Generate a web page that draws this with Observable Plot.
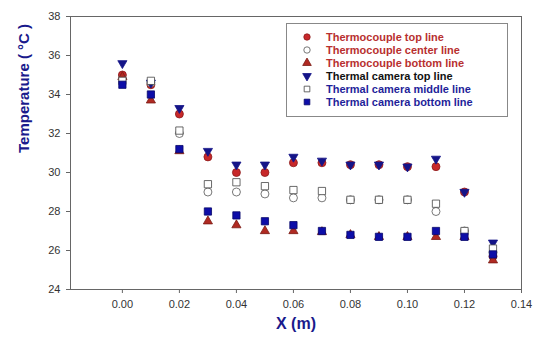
<!DOCTYPE html>
<html>
<head>
<meta charset="utf-8">
<script src="https://cdn.jsdelivr.net/npm/d3@7"></script>
<script src="https://cdn.jsdelivr.net/npm/@observablehq/plot@0.6"></script>
<style>
  body { margin: 0; background: #fff; font-family: "Liberation Sans", Arial, sans-serif; }
  #wrap { position: relative; width: 534px; height: 340px; }
  #legend { position: absolute; left: 286px; top: 23px; width: 222px; height: 94px;
            border: 1px solid #888; background: #fff; box-sizing: border-box; padding-top: 6px; }
  .row { display: flex; align-items: center; height: 13px; font-weight: bold; font-size: 11px; }
  .row svg { margin-left: 15px; margin-right: 14px; }
</style>
</head>
<body>
<div id="wrap"><div id="chart"></div><div id="legend"></div></div>
<script>
const xs = [0, 0.01, 0.02, 0.03, 0.04, 0.05, 0.06, 0.07, 0.08, 0.09, 0.10, 0.11, 0.12, 0.13];
const tcTop    = [35.0, 34.5, 33.0, 30.8, 30.0, 30.0, 30.5, 30.5, 30.4, 30.4, 30.3, 30.3, 29.0, 25.7];
const tcCenter = [34.8, 34.6, 32.0, 29.0, 29.0, 28.9, 28.7, 28.7, 28.6, 28.6, 28.6, 28.0, 27.0, 25.9];
const tcBottom = [34.9, 33.7, 31.1, 27.5, 27.3, 27.0, 27.0, 26.95, 26.8, 26.7, 26.7, 26.7, 26.7, 25.5];
const camTop   = [35.6, 34.6, 33.3, 31.1, 30.4, 30.4, 30.8, 30.6, 30.4, 30.4, 30.3, 30.7, 29.0, 26.4];
const camMid   = [34.7, 34.7, 32.15, 29.4, 29.5, 29.3, 29.1, 29.05, 28.6, 28.6, 28.6, 28.4, 27.0, 26.1];
const camBot   = [34.5, 34.0, 31.2, 28.0, 27.8, 27.5, 27.3, 27.0, 26.8, 26.7, 26.7, 27.0, 26.7, 25.8];
const seriesNames = ["Thermocouple top line", "Thermocouple center line", "Thermocouple bottom line",
                     "Thermal camera top line", "Thermal camera middle line", "Thermal camera bottom line"];
const yTicks = [24, 26, 28, 30, 32, 34, 36, 38];
const xTicks = [0, 0.02, 0.04, 0.06, 0.08, 0.10, 0.12, 0.14];

const RED = "#c8282a", REDS = "#8a1a1a", NAVY = "#141488", BLUE = "#0d0da8";
const styles = [
  {symbol: "circle", fill: RED, stroke: REDS, rotate: 0, r: 4, text: "#b83030"},
  {symbol: "circle", fill: "white", stroke: "#555", rotate: 0, r: 4, text: "#b83030"},
  {symbol: "triangle", fill: "#b02a22", stroke: "#7a1a14", rotate: 0, r: 3.4, text: "#b83030"},
  {symbol: "triangle", fill: NAVY, stroke: NAVY, rotate: 180, r: 3.4, text: "#111"},
  {symbol: "square", fill: "white", stroke: "#444", rotate: 0, r: 4.1, text: "#1f1f9a"},
  {symbol: "square", fill: BLUE, stroke: "#08086a", rotate: 0, r: 4.1, text: "#1f1f9a"}
];
const allSeries = [tcTop, tcCenter, tcBottom, camTop, camMid, camBot];
const table = (vals) => xs.map((x, i) => ({x, y: vals[i]}));

const marks = [Plot.frame({stroke: "#666"})];
allSeries.forEach((vals, k) => {
  const s = styles[k];
  marks.push(Plot.dot(table(vals), {x: "x", y: "y", symbol: s.symbol, fill: s.fill, stroke: s.stroke,
    strokeWidth: 0.8, r: s.r, rotate: s.rotate}));
});

const plot = Plot.plot({
  width: 534, height: 340,
  marginLeft: 70, marginRight: 13, marginTop: 16, marginBottom: 51,
  style: {fontFamily: "Liberation Sans, Arial, sans-serif", fontSize: "11px", color: "#333", background: "white"},
  x: {domain: [-0.0182, 0.14], ticks: xTicks, tickFormat: d3.format(".2f"), tickSize: 4, tickPadding: 7,
      label: null, line: false},
  y: {domain: [24, 38], ticks: yTicks, tickSize: 4, tickPadding: 6, label: null},
  marks: [
    ...marks,
    Plot.axisX({ticks: xTicks, tickFormat: d3.format(".2f"), tickSize: 4, tickPadding: 7, stroke: "#666", label: null}),
    Plot.axisY({ticks: yTicks, tickSize: 4, tickPadding: 6, stroke: "#666", label: null}),
    Plot.text(["X (m)"], {frameAnchor: "bottom", dy: 39, text: d => d, fill: "#1a1a8c",
      fontWeight: "bold", fontSize: 16}),
    Plot.text(["Temperature ( °C )"], {frameAnchor: "left", dx: -46, rotate: -90, text: d => d,
      fill: "#1a1a8c", fontWeight: "bold", fontSize: 15})
  ]
});
document.getElementById("chart").append(plot);

const legend = document.getElementById("legend");
seriesNames.forEach((name, k) => {
  const s = styles[k];
  const row = document.createElement("div");
  row.className = "row";
  const sym = d3.symbol(s.symbol === "circle" ? d3.symbolCircle : s.symbol === "square" ? d3.symbolSquare : d3.symbolTriangle, 32)();
  row.innerHTML = `<svg width="10" height="10" viewBox="-5 -5 10 10"><path d="${sym}" fill="${s.fill}" stroke="${s.stroke}" stroke-width="0.8" transform="rotate(${s.rotate})"/></svg><span style="color:${s.text}">${name}</span>`;
  legend.append(row);
});
</script>
</body>
</html>
